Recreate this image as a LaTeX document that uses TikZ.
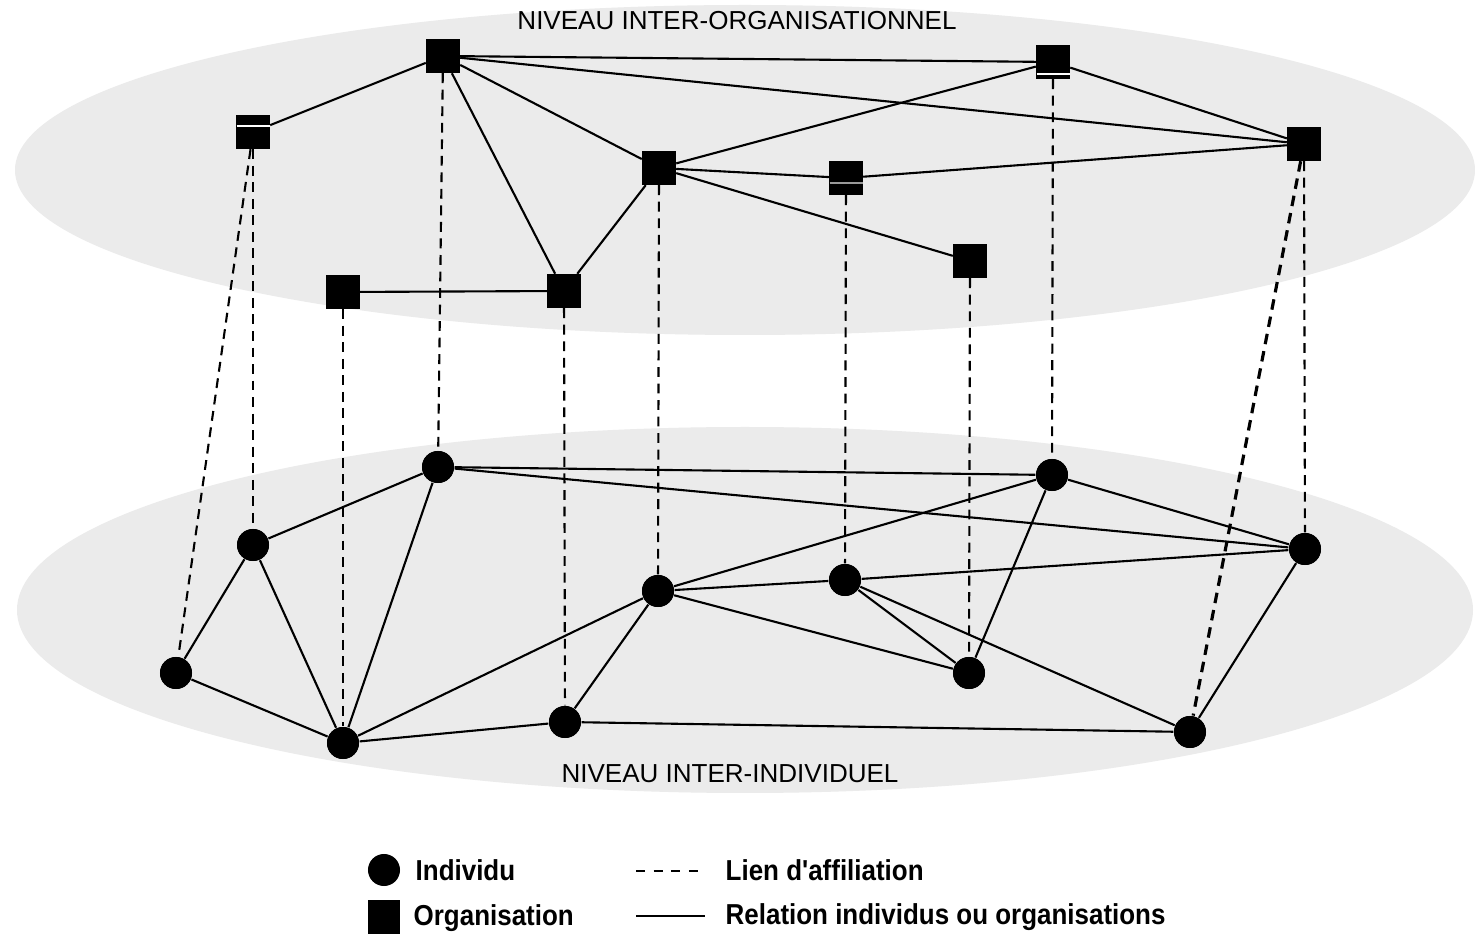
\documentclass[tikz,border=0pt]{standalone}
\usepackage{fontspec}
\setmainfont{Liberation Sans}
\newfontfamily\legfont[FakeStretch=0.9]{Liberation Sans}
\begin{document}
\begin{tikzpicture}[x=0.01cm,y=-0.01cm,
  org/.style={draw=black,fill=black,minimum size=0.33cm,inner sep=0pt,line width=0.4pt},
  ind/.style={circle,fill=black,minimum size=0.32cm,inner sep=0pt},
  rel/.style={line width=0.6pt},
  aff/.style={line width=0.6pt,dash pattern=on 2.8pt off 1.9pt},
  affthick/.style={line width=0.9pt,dash pattern=on 3pt off 2pt},
  lvl/.style={font=\fontsize{7.4}{8}\selectfont},
  leg/.style={font=\legfont\bfseries\fontsize{8.2}{9}\selectfont,anchor=west,inner sep=0pt},
  plane/.style={fill=black!8}]
\useasboundingbox (0,0) rectangle (1475,937);
\fill[white] (0,0) rectangle (1475,937);
% planes
\fill[plane] (745,170) ellipse [x radius=730,y radius=165];
\fill[plane] (745,610) ellipse [x radius=728,y radius=183];
% level labels
\node[lvl] (top) at (737,21) {NIVEAU INTER-ORGANISATIONNEL};
\node[lvl] (bot) at (730,774) {NIVEAU INTER-INDIVIDUEL};
% organisations
\node[org] (A) at (443,56) {};
\node[org] (B) at (1053,62) {};
\node[org] (C) at (253,132) {};
\node[org] (D) at (659,168) {};
\node[org] (E) at (846,178) {};
\node[org] (F) at (1304,144) {};
\node[org] (G) at (970,261) {};
\node[org] (H) at (343,292) {};
\node[org] (I) at (564,291) {};
% individuals
\node[ind] (a) at (438,467) {};
\node[ind] (b) at (1052,475) {};
\node[ind] (c) at (253,545) {};
\node[ind] (d) at (1305,549) {};
\node[ind] (e) at (658,591) {};
\node[ind] (f) at (845,580) {};
\node[ind] (g) at (176,673) {};
\node[ind] (h) at (969,673) {};
\node[ind] (i) at (343,743) {};
\node[ind] (j) at (565,722) {};
\node[ind] (k) at (1190,732) {};
% organisation relations
\begin{scope}[rel]
\draw (A) -- (C);
\draw (A) -- (B);
\draw (A) -- (F);
\draw (A) -- (D);
\draw (A) -- (I);
\draw (B) -- (F);
\draw (D) -- (B);
\draw (D) -- (E);
\draw (E) -- (F);
\draw (D) -- (I);
\draw (D) -- (G);
\draw (H) -- (I);
% individual relations
\draw (a) -- (b);
\draw (a) -- (d);
\draw (a) -- (c);
\draw (a) -- (i);
\draw (b) -- (d);
\draw (b) -- (e);
\draw (b) -- (h);
\draw (c) -- (g);
\draw (c) -- (i);
\draw (g) -- (i);
\draw (i) -- (e);
\draw (i) -- (j);
\draw (j) -- (e);
\draw (e) -- (f);
\draw (f) -- (d);
\draw (e) -- (h);
\draw (f) -- (h);
\draw (f) -- (k);
\draw (j) -- (k);
\draw (k) -- (d);
\end{scope}
% affiliation links
\begin{scope}[aff]
\draw (C) -- (g);
\draw (C) -- (c);
\draw (H) -- (i);
\draw (A) -- (a);
\draw (I) -- (j);
\draw (D) -- (e);
\draw (E) -- (f);
\draw (G) -- (h);
\draw (B) -- (b);
\draw (F) -- (d);
\end{scope}
\draw[affthick] (F) -- (k);
% redraw nodes over lines
\foreach \n in {A,B,C,D,E,F,G,H,I} {\fill[black] ([shift={(-16.5,-16.5)}]\n.center) rectangle ([shift={(16.5,16.5)}]\n.center);}
\foreach \n in {a,b,c,d,e,f,g,h,i,j,k} {\fill[black] (\n.center) circle [radius=16];}
% thin seams inside some squares
\draw[white,line width=0.35pt] ([shift={(-16.5,-6)}]C.center) -- ([shift={(16.5,-6)}]C.center);
\draw[white,line width=0.35pt] ([shift={(-16.5,12)}]B.center) -- ([shift={(16.5,12)}]B.center);
\draw[black!40,line width=0.35pt] ([shift={(-16.5,5)}]E.center) -- ([shift={(16.5,5)}]E.center);
% legend
\node[ind] (li) at (384,870) {};
\node[leg] (lit) at (415,870) {Individu};
\node[fill=black,minimum width=0.31cm,minimum height=0.33cm,inner sep=0pt] (lo) at (384,917) {};
\node[leg] (lot) at (413,918) {Organisation};
\coordinate (la1) at (636,871);
\coordinate (la2) at (705,871);
\draw[line width=0.6pt,dash pattern=on 2.6pt off 2.4pt] (la1) -- (la2);
\node[leg] (lat) at (725,870) {Lien d'affiliation};
\coordinate (lr1) at (636,916);
\coordinate (lr2) at (705,916);
\draw[line width=0.6pt] (lr1) -- (lr2);
\node[leg] (lrt) at (725,917) {Relation individus ou organisations};
\end{tikzpicture}
\end{document}
